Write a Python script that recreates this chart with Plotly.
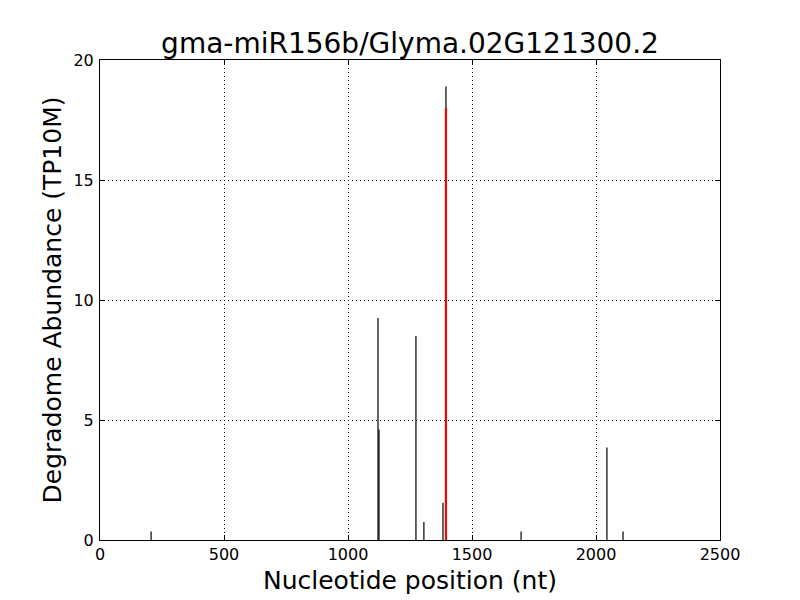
import plotly.graph_objects as go

positions = [206, 1121, 1125, 1274, 1306, 1383, 1395, 1698, 2044, 2109]
abundance = [0.35, 9.25, 4.6, 8.5, 0.75, 1.55, 18.9, 0.35, 3.85, 0.35]
target_pos = [1395]
target_val = [18.0]

def stems(xs, ys):
    X, Y = [], []
    for x, y in zip(xs, ys):
        X += [x, x, None]
        Y += [0, y, None]
    return X, Y

bx, by = stems(positions, abundance)
rx, ry = stems(target_pos, target_val)

fig = go.Figure()
fig.add_trace(go.Scatter(x=bx, y=by, mode="lines", line=dict(color="black", width=1.2),
                         showlegend=False, hoverinfo="skip"))
fig.add_trace(go.Scatter(x=rx, y=ry, mode="lines", line=dict(color="red", width=2.2),
                         showlegend=False, hoverinfo="skip"))

axis_common = dict(
    showline=True, linecolor="black", linewidth=1, mirror="allticks",
    ticks="inside", ticklen=5, tickcolor="black",
    showgrid=True, gridcolor="black", griddash="1px,3px", gridwidth=1,
    zeroline=False, automargin=False,
    tickfont=dict(family="DejaVu Sans", size=16, color="black"),
)

fig.update_layout(
    width=800, height=600,
    paper_bgcolor="white", plot_bgcolor="white",
    margin=dict(l=92, r=88, t=52, b=68),
    title=dict(text="gma-miR156b/Glyma.02G121300.2", x=0.5025, xanchor="center",
               y=0.942, yanchor="middle",
               font=dict(family="DejaVu Sans", size=28, color="black")),
    xaxis=dict(range=[0, 2500], tickvals=[0, 500, 1000, 1500, 2000, 2500],
               ticklabelstandoff=0,
               title=dict(text="Nucleotide position (nt)", standoff=8,
                          font=dict(family="DejaVu Sans", size=25, color="black")),
               **axis_common),
    yaxis=dict(range=[0, 20], tickvals=[0, 5, 10, 15, 20],
               ticklabelstandoff=2,
               title=dict(text="Degradome Abundance (TP10M)", standoff=4,
                          font=dict(family="DejaVu Sans", size=25, color="black")),
               **axis_common),
)

fig.write_html("out.html")
